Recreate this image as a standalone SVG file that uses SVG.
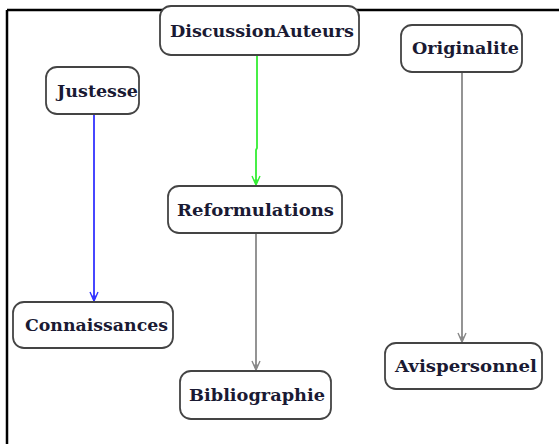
<svg xmlns="http://www.w3.org/2000/svg" width="559" height="444" viewBox="0 0 559 444">
<style>
.node rect{fill:#fff;stroke:#444;stroke-width:1.8}
.node text{font-family:"DejaVu Serif","Liberation Serif",serif;font-weight:bold;font-size:17px;fill:#1a1a33;text-anchor:middle;dominant-baseline:central}
.edge{fill:none;stroke-width:1.8}
</style>
<defs>
<marker id="ab-blue" markerWidth="12" markerHeight="10" refX="11" refY="5" orient="auto" markerUnits="userSpaceOnUse" viewBox="0 0 12 10">
<path d="M2,1 L11,5 L2,9" fill="none" stroke="#3333ff" stroke-width="1.4"/>
<path d="M6,3.2 L11,5 L6,6.8 Z" fill="#3333ff" stroke="#3333ff"/>
</marker>
<marker id="ab-green" markerWidth="12" markerHeight="10" refX="11" refY="5" orient="auto" markerUnits="userSpaceOnUse" viewBox="0 0 12 10">
<path d="M2,1 L11,5 L2,9" fill="none" stroke="#33ee33" stroke-width="1.4"/>
<path d="M6,3.2 L11,5 L6,6.8 Z" fill="#33ee33" stroke="#33ee33"/>
</marker>
<marker id="ab-gray" markerWidth="12" markerHeight="10" refX="11" refY="5" orient="auto" markerUnits="userSpaceOnUse" viewBox="0 0 12 10">
<path d="M2,1 L11,5 L2,9" fill="none" stroke="#888" stroke-width="1.4"/>
<path d="M6,3.2 L11,5 L6,6.8 Z" fill="#888" stroke="#888"/>
</marker>
</defs>
<rect width="559" height="444" fill="#fff"/>
<g id="frame" stroke="#000" stroke-width="2.5" fill="none">
<line x1="7" y1="10" x2="559" y2="10"/>
<line x1="7" y1="10" x2="7" y2="444"/>
</g>
<g id="connectors">
<path class="edge" d="M94,114 V301" stroke="#3333ff" marker-end="url(#ab-blue)"/>
<path class="edge" d="M257,55 V148 L256,150 V185" stroke="#33ee33" marker-end="url(#ab-green)"/>
<path class="edge" d="M256,233 V370" stroke="#888" marker-end="url(#ab-gray)"/>
<path class="edge" d="M462,72 V342" stroke="#888" marker-end="url(#ab-gray)"/>
</g>
<g id="DiscussionAuteurs" class="node">
<rect x="160" y="6" width="199" height="49" rx="11"/>
<text x="262" y="31" textLength="184" lengthAdjust="spacingAndGlyphs">DiscussionAuteurs</text>
</g>
<g id="Justesse" class="node">
<rect x="46" y="67" width="93" height="47" rx="11"/>
<text x="97.5" y="91" textLength="81" lengthAdjust="spacingAndGlyphs">Justesse</text>
</g>
<g id="Originalite" class="node">
<rect x="401" y="25" width="121" height="47" rx="11"/>
<text x="465.5" y="48" textLength="107" lengthAdjust="spacingAndGlyphs">Originalite</text>
</g>
<g id="Reformulations" class="node">
<rect x="168" y="186" width="174" height="47" rx="11"/>
<text x="255.5" y="210" textLength="157" lengthAdjust="spacingAndGlyphs">Reformulations</text>
</g>
<g id="Connaissances" class="node">
<rect x="13" y="302" width="160" height="46" rx="11"/>
<text x="96.5" y="325" textLength="143" lengthAdjust="spacingAndGlyphs">Connaissances</text>
</g>
<g id="Bibliographie" class="node">
<rect x="180" y="371" width="151" height="48" rx="11"/>
<text x="257" y="395" textLength="136" lengthAdjust="spacingAndGlyphs">Bibliographie</text>
</g>
<g id="Avispersonnel" class="node">
<rect x="385" y="343" width="157" height="46" rx="11"/>
<text x="466" y="366" textLength="142" lengthAdjust="spacingAndGlyphs">Avispersonnel</text>
</g>
</svg>
